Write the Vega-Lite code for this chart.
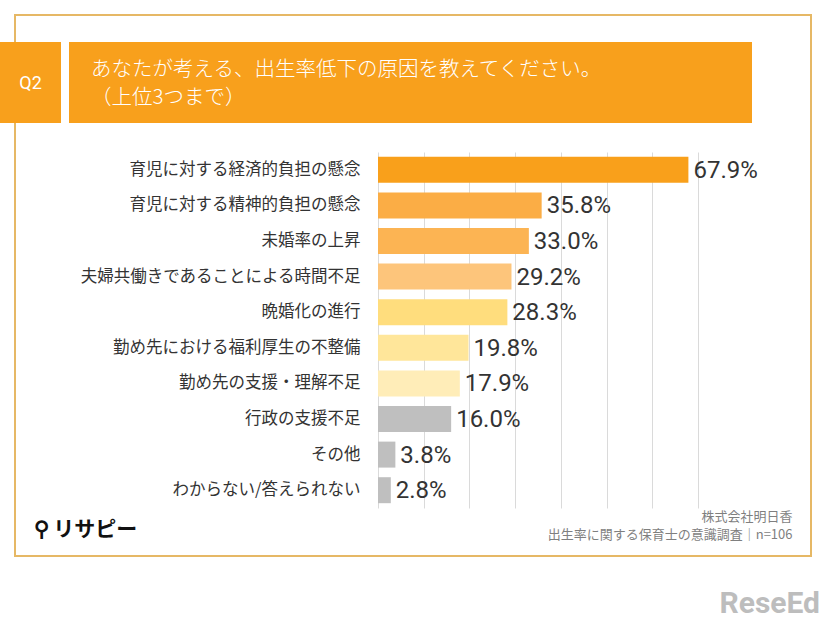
{
  "$schema": "https://vega.github.io/schema/vega-lite/v6.json",
  "background": "white",
  "padding": {"left": 0, "top": 14, "right": 0, "bottom": 0},
  "config": {
    "view": {"stroke": null},
    "concat": {"spacing": 0},
    "font": "Noto Sans CJK JP"
  },
  "spacing": 0,
  "vconcat": [
    {
      "spacing": 0,
      "hconcat": [
        {"width": 14, "height": 2, "data": {"values": []}, "mark": "point"},
        {"width": 798, "height": 2, "data": {"values": []}, "mark": "point", "view": {"fill": "#E6B865", "stroke": null}}
      ]
    },
    {
      "spacing": 0,
      "hconcat": [
        {"width": 14, "height": 26, "data": {"values": []}, "mark": "point"},
        {"width": 2, "height": 26, "data": {"values": []}, "mark": "point", "view": {"fill": "#E6B865", "stroke": null}},
        {"width": 794, "height": 26, "data": {"values": []}, "mark": "point"},
        {"width": 2, "height": 26, "data": {"values": []}, "mark": "point", "view": {"fill": "#E6B865", "stroke": null}}
      ]
    },
    {
      "spacing": 0,
      "hconcat": [
        {
          "width": 61, "height": 81,
          "view": {"fill": "#F8A01C", "stroke": null},
          "data": {"values": [{"q": "Q2"}]},
          "mark": {"type": "text", "color": "white", "fontSize": 18, "align": "center", "baseline": "middle", "font": "Roboto", "dy": 1},
          "encoding": {"text": {"field": "q"}}
        },
        {"width": 8, "height": 81, "data": {"values": []}, "mark": "point"},
        {
          "width": 683, "height": 81,
          "view": {"fill": "#F8A01C", "stroke": null},
          "data": {"values": []},
          "mark": "point",
          "title": {
            "text": ["あなたが考える、出生率低下の原因を教えてください。", "（上位3つまで）"],
            "orient": "top", "anchor": "start", "frame": "group",
            "offset": -66, "dx": 22,
            "color": "white", "fontSize": 20.5, "fontWeight": 300, "lineHeight": 27.5,
            "font": "Noto Sans CJK JP"
          }
        },
        {"width": 58, "height": 81, "data": {"values": []}, "mark": "point"},
        {"width": 2, "height": 81, "data": {"values": []}, "mark": "point", "view": {"fill": "#E6B865", "stroke": null}}
      ]
    },
    {
      "spacing": 0,
      "hconcat": [
        {"width": 14, "height": 432, "data": {"values": []}, "mark": "point"},
        {"width": 2, "height": 432, "data": {"values": []}, "mark": "point", "view": {"fill": "#E6B865", "stroke": null}},
        {"width": 17, "height": 432, "data": {"values": []}, "mark": "point"},
        {
          "spacing": 0,
          "vconcat": [
            {"width": 1, "height": 29, "data": {"values": []}, "mark": "point"},
            {
              "width": 320, "height": 356,
              "data": {"values": [
                {"label": "育児に対する経済的負担の懸念", "pct": 0.679},
                {"label": "育児に対する精神的負担の懸念", "pct": 0.358},
                {"label": "未婚率の上昇", "pct": 0.330},
                {"label": "夫婦共働きであることによる時間不足", "pct": 0.292},
                {"label": "晩婚化の進行", "pct": 0.283},
                {"label": "勤め先における福利厚生の不整備", "pct": 0.198},
                {"label": "勤め先の支援・理解不足", "pct": 0.179},
                {"label": "行政の支援不足", "pct": 0.160},
                {"label": "その他", "pct": 0.038},
                {"label": "わからない/答えられない", "pct": 0.028}
              ]},
              "encoding": {
                "y": {
                  "field": "label", "type": "nominal", "sort": null,
                  "title": "⚲ リサピー",
                  "scale": {"paddingInner": 0.27, "paddingOuter": 0.135},
                  "axis": {
                    "domain": false, "ticks": false, "tickSize": 0, "labelPadding": 18,
                    "labelFontSize": 16.5, "labelColor": "#333333", "labelFont": "Noto Sans CJK JP", "labelLimit": 400,
                    "titleAngle": 0, "titleAlign": "left", "titleBaseline": "middle",
                    "titleX": -345, "titleY": 377, "titleFontSize": 21, "titleFontWeight": "bold",
                    "titleColor": "#111111", "titleFont": "Noto Sans CJK JP"
                  }
                },
                "x": {
                  "field": "pct", "type": "quantitative",
                  "scale": {"domain": [0, 0.7], "nice": false},
                  "title": ["株式会社明日香", "出生率に関する保育士の意識調査｜n=106"],
                  "axis": {
                    "values": [0, 0.1, 0.2, 0.3, 0.4, 0.5, 0.6, 0.7],
                    "labels": false, "ticks": false, "domain": false,
                    "grid": true, "gridColor": "#DADADA", "gridWidth": 1,
                    "titleAlign": "right", "titleBaseline": "top", "titleX": 414, "titleY": 2,
                    "titleFontSize": 13, "titleFontWeight": "normal", "titleColor": "#7F7F7F",
                    "titleLineHeight": 18, "titleFont": "Noto Sans CJK JP"
                  }
                }
              },
              "layer": [
                {
                  "mark": {"type": "bar"},
                  "encoding": {
                    "color": {
                      "field": "label", "type": "nominal", "legend": null,
                      "scale": {
                        "domain": ["育児に対する経済的負担の懸念", "育児に対する精神的負担の懸念", "未婚率の上昇", "夫婦共働きであることによる時間不足", "晩婚化の進行", "勤め先における福利厚生の不整備", "勤め先の支援・理解不足", "行政の支援不足", "その他", "わからない/答えられない"],
                        "range": ["#F9A01B", "#FBAD45", "#FCB453", "#FDC57B", "#FFDD7D", "#FFE69A", "#FFEDB8", "#BFBFBF", "#BFBFBF", "#BFBFBF"]
                      }
                    }
                  }
                },
                {
                  "mark": {"type": "text", "align": "left", "baseline": "middle", "dx": 5, "dy": 1, "fontSize": 24, "color": "#333333", "font": "Roboto"},
                  "encoding": {"text": {"field": "pct", "type": "quantitative", "format": ".1%"}}
                }
              ]
            }
          ]
        },
        {"width": 18, "height": 432, "data": {"values": []}, "mark": "point"},
        {"width": 2, "height": 432, "data": {"values": []}, "mark": "point", "view": {"fill": "#E6B865", "stroke": null}}
      ]
    },
    {
      "spacing": 0,
      "hconcat": [
        {"width": 14, "height": 2, "data": {"values": []}, "mark": "point"},
        {
          "width": 798, "height": 2, "data": {"values": []}, "mark": "point", "view": {"fill": "#E6B865", "stroke": null},
          "title": {
            "text": "ReseEd", "orient": "bottom", "anchor": "end", "frame": "group",
            "offset": 32, "dx": 8,
            "color": "#BDBDBD", "fontSize": 30, "fontWeight": "bold", "font": "Roboto"
          }
        }
      ]
    }
  ]
}
